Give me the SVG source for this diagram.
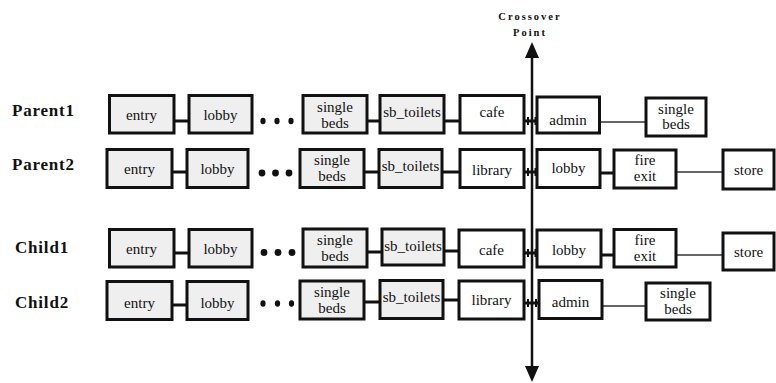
<svg xmlns="http://www.w3.org/2000/svg" width="776" height="383" viewBox="0 0 776 383" font-family="Liberation Serif, serif">
  <defs>
    <style>
      .box { stroke: #111; stroke-width: 3; }
      .old { fill: #efefef; }
      .new { fill: #ffffff; }
      text { font-family: 'Liberation Serif', serif; }
      .t { font-size: 15px; fill: #111; text-anchor: middle; }
      .lbl { font-size: 17px; font-weight: bold; fill: #111; letter-spacing: 0.8px; }
      .cap { font-size: 10.5px; font-weight: bold; fill: #111; text-anchor: middle; letter-spacing: 2px; }
      .thick { stroke: #111; stroke-width: 3; fill: none; }
      .thin { stroke: #333; stroke-width: 1.5; fill: none; }
      .tick { stroke: #111; stroke-width: 2; }
      .dot { fill: #111; }
    </style>
  </defs>

  <!-- crossover axis -->
  <g id="crossover">
    <text class="cap" x="530" y="20">Crossover</text>
    <text class="cap" x="530" y="36">Point</text>
    <line x1="532" y1="56" x2="532" y2="368" stroke="#111" stroke-width="2.5"/>
    <polygon points="532,42 525,58 539,58" fill="#111"/>
    <polygon points="532,382 525,366 539,366" fill="#111"/>
  </g>

  <!-- row labels -->
  <g id="labels">
    <text class="lbl" x="12" y="116">Parent1</text>
    <text class="lbl" x="12" y="170">Parent2</text>
    <text class="lbl" x="15" y="253">Child1</text>
    <text class="lbl" x="15" y="308">Child2</text>
  </g>

  <!-- connectors -->
  <g id="connectors">
    <!-- Parent1 -->
    <line class="thick" x1="174" y1="121" x2="189" y2="121"/>
    <line class="thick" x1="367" y1="121" x2="380" y2="121"/>
    <line class="thick" x1="444" y1="121" x2="460" y2="121"/>
    <line class="thick" x1="524" y1="121" x2="537" y2="121"/>
    <line class="tick" x1="528" y1="117" x2="528" y2="125"/>
    <line class="tick" x1="535.5" y1="117" x2="535.5" y2="125"/>
    <line class="thin" x1="600" y1="122" x2="646" y2="122"/>
    <!-- Parent2 -->
    <line class="thick" x1="172" y1="172" x2="187" y2="172"/>
    <line class="thick" x1="364" y1="172" x2="379" y2="172"/>
    <line class="thick" x1="442" y1="172" x2="460" y2="172"/>
    <line class="thick" x1="524" y1="172" x2="537" y2="172"/>
    <line class="tick" x1="528" y1="168" x2="528" y2="176"/>
    <line class="tick" x1="535.5" y1="168" x2="535.5" y2="176"/>
    <line class="thick" x1="600" y1="173" x2="614" y2="173"/>
    <line class="thin" x1="676" y1="172" x2="723" y2="172"/>
    <!-- Child1 -->
    <line class="thick" x1="174" y1="253" x2="189" y2="253"/>
    <line class="thick" x1="367" y1="252" x2="382" y2="252"/>
    <line class="thick" x1="444" y1="251" x2="459" y2="251"/>
    <line class="thick" x1="524" y1="253" x2="537" y2="253"/>
    <line class="tick" x1="528" y1="249" x2="528" y2="257"/>
    <line class="tick" x1="535.5" y1="249" x2="535.5" y2="257"/>
    <line class="thick" x1="601" y1="255" x2="614" y2="255"/>
    <line class="thin" x1="676" y1="255" x2="723" y2="255"/>
    <!-- Child2 -->
    <line class="thick" x1="172" y1="305" x2="187" y2="305"/>
    <line class="thick" x1="364" y1="302" x2="380" y2="302"/>
    <line class="thick" x1="443" y1="300" x2="459" y2="300"/>
    <line class="thick" x1="524" y1="303" x2="539" y2="303"/>
    <line class="tick" x1="528" y1="299" x2="528" y2="307"/>
    <line class="tick" x1="536" y1="299" x2="536" y2="307"/>
    <line class="thin" x1="602" y1="306" x2="646" y2="306"/>
  </g>

  <!-- Parent1 -->
  <g id="p1-entry"><rect class="box old" x="109.5" y="95.5" width="64.5" height="37.5"/><text class="t" x="141.5" y="120">entry</text></g>
  <g id="p1-lobby"><rect class="box old" x="189" y="95.5" width="63" height="37.5"/><text class="t" x="220.5" y="120">lobby</text></g>
  <g id="p1-dots"><ellipse class="dot" cx="263" cy="121" rx="2.6" ry="3.2"/><ellipse class="dot" cx="277" cy="121" rx="2.6" ry="3.2"/><ellipse class="dot" cx="291" cy="121" rx="2.6" ry="3.2"/></g>
  <g id="p1-single-beds"><rect class="box old" x="303" y="95.5" width="64" height="37.5"/><text class="t" x="335" y="112">single</text><text class="t" x="335" y="128">beds</text></g>
  <g id="p1-sb-toilets"><rect class="box old" x="380" y="95.5" width="64" height="37.5"/><text class="t" x="412" y="117">sb_toilets</text></g>
  <g id="p1-cafe"><rect class="box new" x="460" y="95.5" width="64" height="37.5"/><text class="t" x="492" y="117">cafe</text></g>
  <g id="p1-admin"><rect class="box new" x="537" y="97" width="62.5" height="36"/><text class="t" x="568" y="125">admin</text></g>
  <g id="p1-single-beds-2"><rect class="box new" x="646" y="98" width="60" height="38"/><text class="t" x="676" y="114">single</text><text class="t" x="676" y="129">beds</text></g>

  <!-- Parent2 -->
  <g id="p2-entry"><rect class="box old" x="107" y="149.5" width="65" height="38"/><text class="t" x="139.5" y="174">entry</text></g>
  <g id="p2-lobby"><rect class="box old" x="187" y="149.5" width="61" height="38"/><text class="t" x="217.5" y="174">lobby</text></g>
  <g id="p2-dots"><circle class="dot" cx="262" cy="173" r="3.4"/><circle class="dot" cx="275.5" cy="173" r="3.4"/><circle class="dot" cx="289" cy="173" r="3.4"/></g>
  <g id="p2-single-beds"><rect class="box old" x="300" y="149.5" width="64" height="38"/><text class="t" x="332" y="165">single</text><text class="t" x="332" y="181">beds</text></g>
  <g id="p2-sb-toilets"><rect class="box old" x="379" y="149.5" width="63" height="38"/><text class="t" x="410.5" y="171">sb_toilets</text></g>
  <g id="p2-library"><rect class="box new" x="460" y="149.5" width="64" height="38"/><text class="t" x="492" y="175">library</text></g>
  <g id="p2-lobby-2"><rect class="box new" x="537" y="149.5" width="63" height="38"/><text class="t" x="568.5" y="173">lobby</text></g>
  <g id="p2-fire-exit"><rect class="box new" x="614" y="150" width="62" height="38"/><text class="t" x="645" y="165">fire</text><text class="t" x="645" y="181">exit</text></g>
  <g id="p2-store"><rect class="box new" x="723" y="150" width="51" height="39"/><text class="t" x="748.5" y="175">store</text></g>

  <!-- Child1 -->
  <g id="c1-entry"><rect class="box old" x="109.5" y="229.5" width="64.5" height="37.5"/><text class="t" x="141.5" y="254">entry</text></g>
  <g id="c1-lobby"><rect class="box old" x="189" y="229.5" width="63" height="37.5"/><text class="t" x="220.5" y="254">lobby</text></g>
  <g id="c1-dots"><circle class="dot" cx="264" cy="252.5" r="3.4"/><circle class="dot" cx="278" cy="252.5" r="3.4"/><circle class="dot" cx="292" cy="252.5" r="3.4"/></g>
  <g id="c1-single-beds"><rect class="box old" x="303" y="229" width="64" height="38"/><text class="t" x="335" y="245">single</text><text class="t" x="335" y="261">beds</text></g>
  <g id="c1-sb-toilets"><rect class="box old" x="382" y="229" width="62" height="36"/><text class="t" x="413" y="251">sb_toilets</text></g>
  <g id="c1-cafe"><rect class="box new" x="459" y="230" width="65" height="37"/><text class="t" x="491.5" y="255">cafe</text></g>
  <g id="c1-lobby-2"><rect class="box new" x="537" y="230" width="64" height="37"/><text class="t" x="569" y="255">lobby</text></g>
  <g id="c1-fire-exit"><rect class="box new" x="614" y="229.5" width="62" height="37.5"/><text class="t" x="645" y="245">fire</text><text class="t" x="645" y="261">exit</text></g>
  <g id="c1-store"><rect class="box new" x="723" y="233" width="51" height="37"/><text class="t" x="748.5" y="257">store</text></g>

  <!-- Child2 -->
  <g id="c2-entry"><rect class="box old" x="107" y="281.5" width="65" height="38"/><text class="t" x="139.5" y="308">entry</text></g>
  <g id="c2-lobby"><rect class="box old" x="187" y="281.5" width="61" height="38"/><text class="t" x="217.5" y="308">lobby</text></g>
  <g id="c2-dots"><ellipse class="dot" cx="263" cy="303.5" rx="2.6" ry="3.2"/><ellipse class="dot" cx="277.5" cy="303.5" rx="2.6" ry="3.2"/><ellipse class="dot" cx="291.5" cy="303.5" rx="2.6" ry="3.2"/></g>
  <g id="c2-single-beds"><rect class="box old" x="300" y="281" width="64" height="38"/><text class="t" x="332" y="297">single</text><text class="t" x="332" y="313">beds</text></g>
  <g id="c2-sb-toilets"><rect class="box old" x="380" y="280.5" width="63" height="38"/><text class="t" x="411.5" y="302">sb_toilets</text></g>
  <g id="c2-library"><rect class="box new" x="459" y="281" width="65" height="38"/><text class="t" x="491.5" y="305">library</text></g>
  <g id="c2-admin"><rect class="box new" x="539" y="280.5" width="63" height="38"/><text class="t" x="570.5" y="307">admin</text></g>
  <g id="c2-single-beds-2"><rect class="box new" x="646" y="283" width="64" height="37"/><text class="t" x="678" y="298">single</text><text class="t" x="678" y="314">beds</text></g>
</svg>
